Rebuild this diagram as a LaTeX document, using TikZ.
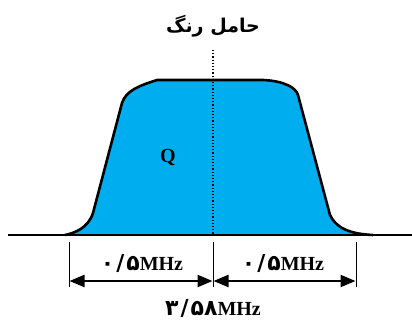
\documentclass[tikz,border=0pt]{standalone}
\usepackage{fontspec}
\setmainfont{Liberation Serif}
\newfontfamily\fafont[Script=Arabic]{DejaVu Sans}
\TeXXeTstate=1
\usetikzlibrary{calc,arrows.meta}
\definecolor{Band}{HTML}{00AEEF}
\definecolor{DInk}{HTML}{000000}
\newcommand{\FaNum}[1]{{\fontsize{22}{24}\selectfont\fafont #1}}
\tikzset{
    label text/.style={font=\fontsize{20}{22}\selectfont\bfseries, text=DInk},
    tick line/.style={DInk, line width=1pt},
    dim arrow/.style={DInk, line width=2.2pt, {Triangle[length=15pt, width=12pt]}-{Triangle[length=15pt, width=12pt]}, shorten <=0.5pt, shorten >=0.5pt}
}
\begin{document}
\begin{tikzpicture}[x=1pt, y=-1pt]
\useasboundingbox (0,0) rectangle (412,322);

% points of the spectrum
\coordinate (left-end) at (8,235);
\coordinate (right-end) at (412,235);
\coordinate (carrier-top) at (213,50);
\coordinate (carrier-base) at (213,235);

% band shape
\fill[Band] (65,235) .. controls (75,233) and (88,228) .. (93,213)
    -- (122,103) .. controls (126,91) and (138,86) .. (157,80)
    -- (263,80) .. controls (285,81) and (296,88) .. (298,95)
    -- (330,215) .. controls (336,228) and (350,234) .. (373,235) -- cycle;
\draw[DInk, line width=2.6pt, line join=round] (65,235) .. controls (75,233) and (88,228) .. (93,213)
    -- (122,103) .. controls (126,91) and (138,86) .. (157,80)
    -- (263,80) .. controls (285,81) and (296,88) .. (298,95)
    -- (330,215) .. controls (336,228) and (350,234) .. (373,235);
\draw[DInk, line width=2pt] (left-end) -- (right-end);
\draw[DInk, line width=1.2pt, dotted] (carrier-top) -- (carrier-base);

\node[label text] (q-label) at (168,157) {Q};
\node[label text, font=\fontsize{19}{22}\selectfont\fafont\bfseries] (carrier-label) at (213,26) {\beginR حامل رنگ\endR};

% dimension lines
\begin{scope}[name prefix=dim-]
    \coordinate (a-top) at (69,242);
    \coordinate (a-bot) at (69,287);
    \coordinate (b-top) at (213,242);
    \coordinate (b-bot) at (213,287);
    \coordinate (c-top) at (356,242);
    \coordinate (c-bot) at (356,287);
    \coordinate (a) at (69,281);
    \coordinate (b) at (213,281);
    \coordinate (c) at (356,281);
\end{scope}
\draw[tick line] (dim-a-top) -- (dim-a-bot);
\draw[tick line] (dim-b-top) -- (dim-b-bot);
\draw[tick line] (dim-c-top) -- (dim-c-bot);
\draw[dim arrow] (dim-a) -- (dim-b);
\draw[dim arrow] (dim-b) -- (dim-c);

\node[label text] (left-width) at (142,263) {\FaNum{۰\kern2pt/\kern2pt۵}MHz};
\node[label text] (right-width) at (283,263) {\FaNum{۰\kern2pt/\kern2pt۵}MHz};
\node[label text] (carrier-freq) at (213,308) {\FaNum{۳\kern2pt/\kern2pt۵۸}MHz};
\end{tikzpicture}
\end{document}
